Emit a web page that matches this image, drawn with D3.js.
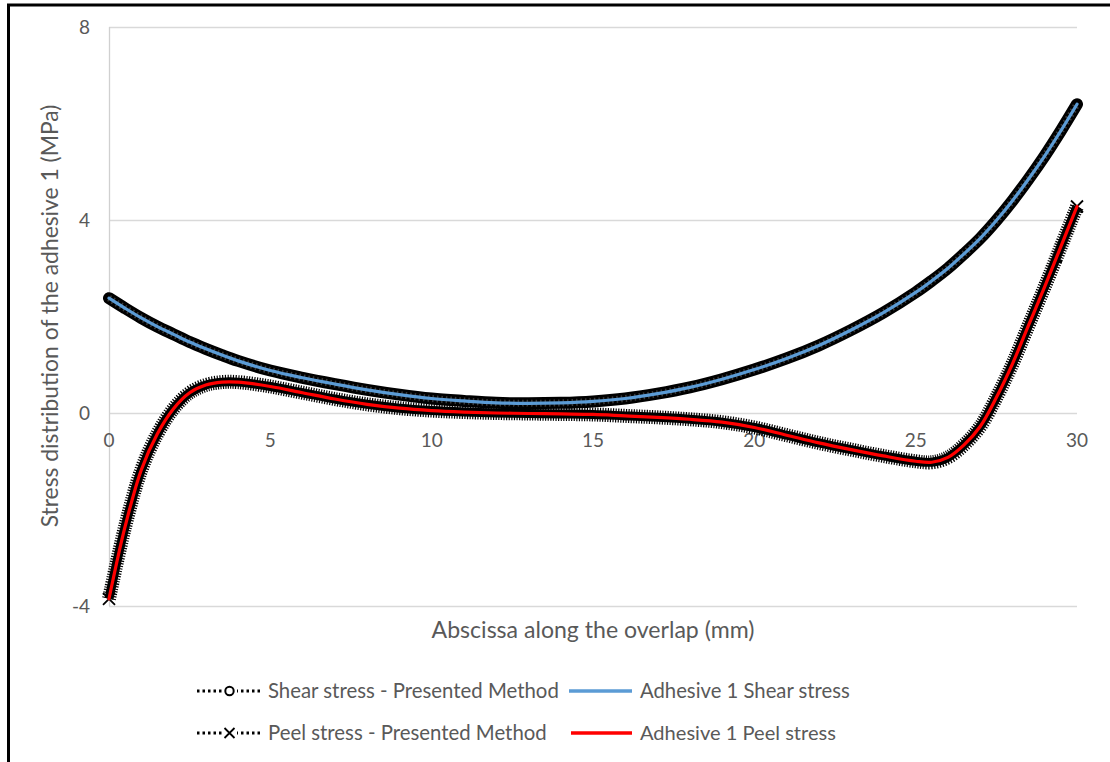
<!DOCTYPE html>
<html><head><meta charset="utf-8">
<script src="https://cdn.jsdelivr.net/npm/d3@7"></script>
<style>
html,body{margin:0;padding:0;background:#fff;}
svg text{font-family:Lato,"Open Sans","Liberation Sans",sans-serif;fill:#595959;}
</style></head>
<body>
<svg id="chart" width="1110" height="762"></svg>
<script>
// ---- data ----
const xValues = [0,0.5,1,1.5,2,2.5,3,3.5,4,5,6,7,8,9,10,11,12,13,14,15,16,17,18,19,20,21,22,23,24,25,25.5,26,26.5,27,27.5,28,28.5,29,29.5,30];
const shearValues = [2.38,2.17,1.97,1.79,1.63,1.47,1.33,1.20,1.08,0.88,0.73,0.60,0.48,0.38,0.30,0.25,0.21,0.20,0.21,0.24,0.30,0.40,0.53,0.70,0.90,1.13,1.40,1.72,2.08,2.50,2.74,3.00,3.30,3.62,3.99,4.40,4.85,5.33,5.85,6.40];
const peelValues  = [-3.85,-2.35,-1.18,-0.43,0.09,0.42,0.58,0.64,0.64,0.55,0.42,0.29,0.18,0.10,0.05,0.02,0.00,-0.01,-0.02,-0.03,-0.06,-0.09,-0.13,-0.19,-0.30,-0.46,-0.62,-0.76,-0.89,-1.00,-1.02,-0.92,-0.66,-0.28,0.32,1.02,1.82,2.62,3.45,4.28];
// presented method follows the adhesive curves (coincident in the picture)
const shearPresented = shearValues.slice();
const peelPresented = peelValues.slice();
const xTicks = [0,5,10,15,20,25,30];
const yTicks = [-4,0,4,8];
const legendLabels = ["Shear stress - Presented Method","Adhesive 1 Shear stress","Peel stress - Presented Method","Adhesive 1 Peel stress"];
const xTitle = "Abscissa along the overlap (mm)";
const yTitle = "Stress distribution of the adhesive 1 (MPa)";

const svg = d3.select("#chart");
const x = d3.scaleLinear().domain([0,30]).range([109,1077]);
const y = d3.scaleLinear().domain([-4,8]).range([606,27]);

// size a text so that it spans the width seen in the picture
function fit(sel, target){
  const base = 20;
  sel.style("font-size", base+"px");
  const w = sel.node().getComputedTextLength();
  sel.style("font-size", (base*target/w)+"px");
  return sel;
}

// outer frame (partial border as in the picture)
svg.append("line").attr("x1",8.5).attr("x2",8.5).attr("y1",4).attr("y2",762).attr("stroke","#000").attr("stroke-width",3);
svg.append("line").attr("x1",7).attr("x2",1110).attr("y1",5).attr("y2",5).attr("stroke","#000").attr("stroke-width",3);

// gridlines
svg.append("g").selectAll("line").data(yTicks).join("line")
  .attr("x1",x(0)).attr("x2",x(30)).attr("y1",d=>y(d)+0.5).attr("y2",d=>y(d)+0.5)
  .attr("stroke","#d9d9d9").attr("stroke-width",1.3);
svg.append("line").attr("x1",x(0)+0.5).attr("x2",x(0)+0.5).attr("y1",y(8)).attr("y2",y(-4))
  .attr("stroke","#d0d0d0").attr("stroke-width",1.3);

// y tick labels
svg.append("g").selectAll("text").data(yTicks).join("text")
  .attr("x",90).attr("y",d=>y(d)).attr("dy","0.36em").attr("text-anchor","end")
  .style("font-size","19px").text(d=>d);
// x tick labels (sit below the zero line)
svg.append("g").selectAll("text").data(xTicks).join("text")
  .attr("x",d=>x(d)).attr("y",y(0)+27).attr("dy","0.36em").attr("text-anchor","middle")
  .style("font-size","19px").text(d=>d);

// axis titles
fit(svg.append("text").attr("x",593).attr("y",630).attr("dy","0.36em").attr("text-anchor","middle").text(xTitle), 323);
fit(svg.append("text").attr("transform","translate(50,316) rotate(-90)").attr("dy","0.36em").attr("text-anchor","middle").text(yTitle), 423);

const pts = vals => xValues.map((v,i)=>[v,vals[i]]);
const line = d3.line().x(d=>x(d[0])).y(d=>y(d[1])).curve(d3.curveCatmullRom.alpha(0.5));

const g = svg.append("g");
// Shear stress - presented method : dense circle markers -> black band
g.append("path").attr("d",line(pts(shearPresented))).attr("fill","none")
  .attr("stroke","#000").attr("stroke-width",12).attr("stroke-linecap","round").attr("stroke-linejoin","round");
g.append("path").attr("d",line(pts(shearPresented))).attr("fill","none")
  .attr("stroke","#3a3a3a").attr("stroke-width",7).attr("stroke-dasharray","1.5,3");
// Peel stress - presented method : dense X markers -> hatched band
g.append("path").attr("d",line(pts(peelPresented))).attr("fill","none")
  .attr("stroke","#000").attr("stroke-width",14).attr("stroke-dasharray","1.2,1.4");
g.append("path").attr("d",line(pts(peelPresented))).attr("fill","none")
  .attr("stroke","#000").attr("stroke-width",9).attr("stroke-linejoin","round");
// end X markers
const xMark = (cx,cy,s)=>`M${cx-s},${cy-s}L${cx+s},${cy+s}M${cx-s},${cy+s}L${cx+s},${cy-s}`;
[0,xValues.length-1].forEach(i=>{
  g.append("path").attr("d",xMark(x(xValues[i]),y(peelPresented[i]),6)).attr("stroke","#000").attr("stroke-width",1.8);
});

// Adhesive 1 lines
g.append("path").attr("d",line(pts(shearValues))).attr("fill","none")
  .attr("stroke","#5B9BD5").attr("stroke-width",3.2).attr("stroke-linecap","round");
g.append("path").attr("d",line(pts(peelValues))).attr("fill","none")
  .attr("stroke","#FF0000").attr("stroke-width",3.2).attr("stroke-linecap","round");

// legend
const lg = svg.append("g");
const rows = [691,733];
const legendTargets = [291,210,279,196];
rows.forEach((ry,ri)=>{
  lg.append("line").attr("x1",197).attr("x2",263).attr("y1",ry).attr("y2",ry)
    .attr("stroke","#000").attr("stroke-width",3).attr("stroke-dasharray","2.5,3");
  lg.append("rect").attr("x",222).attr("y",ry-7).attr("width",15).attr("height",14).attr("fill","#fff");
  if(ri===0){
    lg.append("circle").attr("cx",229.5).attr("cy",ry).attr("r",4.2).attr("fill","#fff").attr("stroke","#000").attr("stroke-width",2);
  } else {
    lg.append("path").attr("d",xMark(229.5,ry,5)).attr("stroke","#000").attr("stroke-width",1.8);
  }
  fit(lg.append("text").attr("x",268).attr("y",ry).attr("dy","0.36em").text(legendLabels[ri*2]), legendTargets[ri*2]);
});
lg.append("line").attr("x1",569).attr("x2",632).attr("y1",rows[0]).attr("y2",rows[0]).attr("stroke","#5B9BD5").attr("stroke-width",3.5);
fit(lg.append("text").attr("x",640).attr("y",rows[0]).attr("dy","0.36em").text(legendLabels[1]), legendTargets[1]);
lg.append("line").attr("x1",571).attr("x2",632).attr("y1",rows[1]).attr("y2",rows[1]).attr("stroke","#FF0000").attr("stroke-width",3.5);
fit(lg.append("text").attr("x",640).attr("y",rows[1]).attr("dy","0.36em").text(legendLabels[3]), legendTargets[3]);
</script>
</body></html>
